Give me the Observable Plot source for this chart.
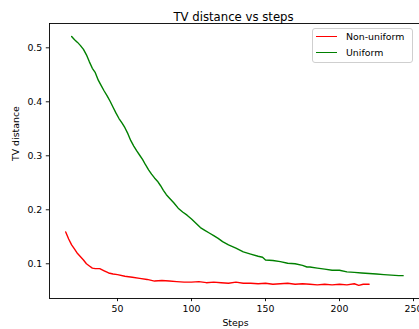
<!DOCTYPE html>
<html>
<head>
<meta charset="utf-8">
<script src="https://cdn.jsdelivr.net/npm/d3@7"></script>
<script src="https://cdn.jsdelivr.net/npm/@observablehq/plot@0.6"></script>
<style>
  html, body { margin: 0; padding: 0; background: #fff; }
  #wrap { position: relative; width: 419px; height: 329px; overflow: hidden; font-family: "DejaVu Sans", sans-serif; }
  #legend { position: absolute; left: 312px; top: 28px; width: 101px; height: 35px; border: 1px solid #cfcfcf; border-radius: 3px; background: rgba(255,255,255,0.8); box-sizing: border-box; }
  .sw { position: absolute; left: 3px; width: 21px; height: 0; border-top: 1.5px solid; }
  .lbl { position: absolute; left: 33px; font-size: 9.4px; line-height: 12px; height: 12px; color: #000; white-space: nowrap; }
</style>
</head>
<body>
<div id="wrap"><div id="legend"></div></div>
<script>
const seriesNames = ["Non-uniform", "Uniform"];
const seriesColors = ["#ff0000", "#008000"];

const nonUniformSteps = [15,17,19,21,23,25,27,29,31,33,35,38,41,44,47,50,55,60,65,70,75,80,85,90,95,100,105,110,115,120,125,130,135,140,145,150,155,160,165,170,175,180,185,190,195,200,205,210,213,216,220];
const nonUniformTV = [0.159,0.146,0.135,0.127,0.119,0.113,0.107,0.100,0.096,0.092,0.091,0.091,0.087,0.083,0.081,0.080,0.077,0.075,0.073,0.071,0.068,0.069,0.068,0.067,0.066,0.066,0.067,0.065,0.066,0.065,0.064,0.066,0.064,0.064,0.063,0.064,0.062,0.063,0.064,0.062,0.063,0.062,0.061,0.062,0.061,0.062,0.061,0.063,0.060,0.062,0.062];

const uniformSteps = [19,21,23,25,27,29,31,33,35,37,39,41,43,45,47,49,51,53,55,57,59,61,63,65,67,69,71,73,75,77,79,81,83,85,88,91,94,97,100,103,106,109,112,115,118,121,125,130,135,140,145,148,150,155,160,165,170,175,178,180,185,190,195,200,205,210,215,220,225,230,235,240,243];
const uniformTV = [0.521,0.515,0.510,0.504,0.497,0.487,0.474,0.462,0.454,0.440,0.430,0.420,0.411,0.401,0.390,0.379,0.369,0.361,0.352,0.341,0.328,0.318,0.309,0.301,0.293,0.283,0.274,0.266,0.259,0.253,0.245,0.236,0.228,0.222,0.213,0.203,0.196,0.190,0.183,0.175,0.167,0.162,0.157,0.152,0.147,0.141,0.135,0.129,0.122,0.118,0.114,0.112,0.107,0.106,0.104,0.101,0.100,0.097,0.094,0.094,0.092,0.090,0.088,0.088,0.085,0.084,0.083,0.082,0.081,0.080,0.079,0.078,0.078];

const xTicks = [50, 100, 150, 200, 250];
const yTicks = [0.1, 0.2, 0.3, 0.4, 0.5];

const data = [
  ...nonUniformSteps.map((s, i) => ({step: s, tv: nonUniformTV[i], series: seriesNames[0]})),
  ...uniformSteps.map((s, i) => ({step: s, tv: uniformTV[i], series: seriesNames[1]}))
];

const chart = Plot.plot({
  width: 419,
  height: 329,
  marginLeft: 49,
  marginRight: -2,
  marginTop: 23,
  marginBottom: 31,
  style: {fontFamily: "DejaVu Sans, sans-serif", fontSize: "9.4px", color: "#000", background: "#fff"},
  x: {domain: [4.05, 255.4], ticks: xTicks, tickFormat: d => String(d), label: null},
  y: {domain: [0.0357, 0.545], ticks: yTicks, tickFormat: d => d.toFixed(1), label: null},
  color: {domain: seriesNames, range: seriesColors},
  marks: [
    Plot.line(data, {x: "step", y: "tv", z: "series", stroke: "series", strokeWidth: 1.4}),
    Plot.frame({stroke: "#000", strokeWidth: 0.9}),
    Plot.axisX({ticks: xTicks, tickSize: 3.2, tickPadding: 4, tickFormat: d => String(d), label: null, strokeWidth: 0.9}),
    Plot.axisY({ticks: yTicks, tickSize: 3.2, tickPadding: 4, tickFormat: d => d.toFixed(1), label: null, strokeWidth: 0.9}),
    Plot.text(["TV distance vs steps"], {frameAnchor: "top", dy: -11, dx: -2, fontSize: 11.7, fill: "#000"}),
    Plot.text(["Steps"], {frameAnchor: "bottom", dy: 27, fontSize: 9.4, fill: "#000"}),
    Plot.text(["TV distance"], {frameAnchor: "left", dx: -34, rotate: -90, fontSize: 9.4, fill: "#000"})
  ]
});
document.getElementById("wrap").prepend(chart);

const legend = document.getElementById("legend");
seriesNames.forEach((name, i) => {
  const top = i === 0 ? 2 : 18;
  const sw = document.createElement("div");
  sw.className = "sw";
  sw.style.top = (top + 5) + "px";
  sw.style.borderTopColor = seriesColors[i];
  legend.appendChild(sw);
  const lbl = document.createElement("div");
  lbl.className = "lbl";
  lbl.style.top = top + "px";
  lbl.textContent = name;
  legend.appendChild(lbl);
});
</script>
</body>
</html>
